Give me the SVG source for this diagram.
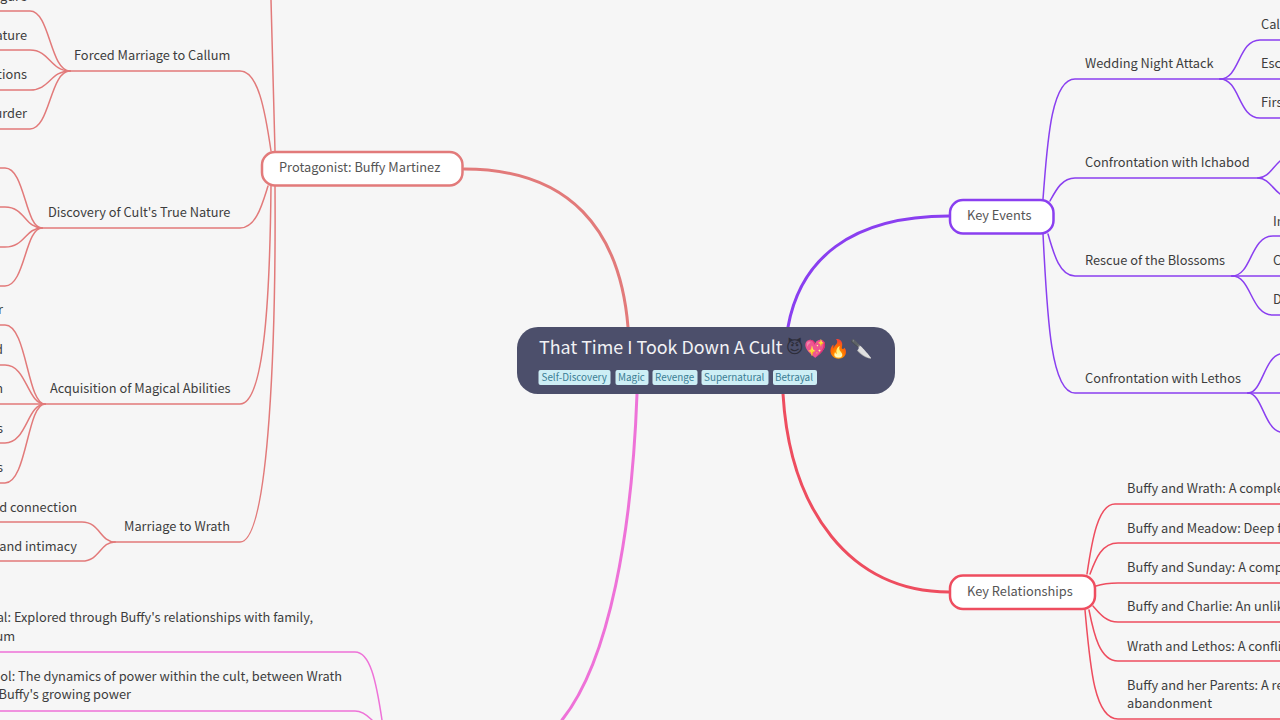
<svg xmlns="http://www.w3.org/2000/svg" width="1280" height="720" viewBox="0 0 1280 720">
<style>
text{font-family:"Noto Sans CJK SC","Noto Sans",sans-serif;font-size:12.800px;fill:#3d3d3d;dominant-baseline:central}
.e{text-anchor:end}
path{fill:none;stroke-linecap:round}
.r{stroke:#e27a7a}.v{stroke:#8a3ff0}.k{stroke:#ee4d5f}.p{stroke:#ee72d8}
.l{stroke-width:1.5}.m{stroke-width:3}
rect.n{fill:#fff;stroke-width:2.500}
rect.t{fill:#cdeef5;}
text.g{font-size:9.900px;fill:#3a7d94}
text.b{fill:#555}
</style>
<rect width="1280" height="720" fill="#f6f6f6"/>
<g id="connectors">
<path class="r m" d="M628,327C620,230 570,169 464,169"/>
<path class="v m" d="M788,327C800,260 850,216 949,216"/>
<path class="k m" d="M783,394C790,510 850,592 949,592"/>
<path class="p m" d="M637,394C632,530 610,660 562,720"/>
<g class="lev">
<path class="r l" d="M275,151C274,100 272,50 271,0"/>
<path class="r l" d="M271,151C265,110 258,71 240,71H70"/>
<path class="r l" d="M268,186C262,205 256,228 240,228H42"/>
<path class="r l" d="M271,186C270,290 265,404 240,404H45"/>
<path class="r l" d="M275,186C276,330 270,542 240,542H115"/>
<path class="r l" d="M70,71C50,71 50,11 30,11H0"/>
<path class="r l" d="M70,71C50,71 50,50 30,50H0"/>
<path class="r l" d="M70,71C50,71 50,90 30,90H0"/>
<path class="r l" d="M70,71C50,71 50,129 30,129H0"/>
<path class="r l" d="M42,228C25,228 25,168 5,168H0"/>
<path class="r l" d="M42,228C25,228 25,207 5,207H0"/>
<path class="r l" d="M42,228C25,228 25,247 5,247H0"/>
<path class="r l" d="M42,228C25,228 25,286 5,286H0"/>
<path class="r l" d="M45,404C27,404 27,325 5,325H0"/>
<path class="r l" d="M45,404C27,404 27,365 5,365H0"/>
<path class="r l" d="M45,404H0"/>
<path class="r l" d="M45,404C27,404 27,443 5,443H0"/>
<path class="r l" d="M45,404C27,404 27,483 5,483H0"/>
<path class="r l" d="M115,542C100,542 100,522 82,522H0"/>
<path class="r l" d="M115,542C100,542 100,561 82,561H0"/>
<path class="p l" d="M0,652H355C370,652 376,680 382,720"/>
<path class="p l" d="M0,711H355C362,711 367,715 372,720"/>
<path class="v l" d="M1043,199C1047,150 1050,79 1075,79H1220"/>
<path class="v l" d="M1050,201C1056,190 1062,178 1075,178H1258"/>
<path class="v l" d="M1048,234C1054,255 1060,276 1075,276H1232"/>
<path class="v l" d="M1043,234C1047,310 1050,393 1075,393H1248"/>
<path class="v l" d="M1220,79C1240,79 1238,40 1260,40H1280"/>
<path class="v l" d="M1220,79H1280"/>
<path class="v l" d="M1220,79C1240,79 1238,118 1260,118H1280"/>
<path class="v l" d="M1258,178C1268,178 1272,168 1280,161"/>
<path class="v l" d="M1258,178C1268,178 1272,188 1280,194"/>
<path class="v l" d="M1232,276C1252,276 1250,236 1273,236H1280"/>
<path class="v l" d="M1232,276H1280"/>
<path class="v l" d="M1232,276C1252,276 1250,315 1273,315H1280"/>
<path class="v l" d="M1248,393C1262,393 1264,358 1280,354"/>
<path class="v l" d="M1248,393H1280"/>
<path class="v l" d="M1248,393C1262,393 1264,428 1280,432"/>
<path class="k l" d="M1087,574C1092,540 1098,504 1115,504H1280"/>
<path class="k l" d="M1090,574C1096,558 1102,543 1118,543H1280"/>
<path class="k l" d="M1096,586C1102,584 1108,583 1118,583H1280"/>
<path class="k l" d="M1093,606C1100,614 1106,622 1118,622H1280"/>
<path class="k l" d="M1089,610C1094,635 1100,661 1118,661H1280"/>
<path class="k l" d="M1085,610C1090,665 1094,719 1118,719H1280"/>
</g>
</g>
<g id="root">
<rect x="517" y="327" width="378" height="67" rx="21" fill="#4c4f6b"/>
<text x="539" y="346" style="font-size:17.900px;fill:#f2f2f5">That Time I Took Down A Cult</text>
<text x="786" y="347" style="font-size:17px;fill:#2c2d3a;font-family:'DejaVu Sans',sans-serif">😈</text>
<text x="804" y="347" style="font-size:18px;fill:#f2f2f5">💖</text>
<text x="827" y="347" style="font-size:18px;fill:#f2f2f5">🔥</text>
<text x="850" y="347" style="font-size:18px;fill:#f2f2f5">🔪</text>
<rect class="t" x="538.500" y="370" width="72" height="15" rx="2"/><text class="g" x="541.500" y="377">Self-Discovery</text>
<rect class="t" x="615.500" y="370" width="33" height="15" rx="2"/><text class="g" x="618" y="377">Magic</text>
<rect class="t" x="652.500" y="370" width="45" height="15" rx="2"/><text class="g" x="655" y="377">Revenge</text>
<rect class="t" x="701.500" y="370" width="67" height="15" rx="2"/><text class="g" x="704" y="377">Supernatural</text>
<rect class="t" x="773" y="370" width="44" height="15" rx="2"/><text class="g" x="775" y="377">Betrayal</text>
</g>
<g id="protagonist"><rect class="n r" x="262" y="152" width="200.500" height="33.500" rx="13"/><text class="b" x="279" y="166">Protagonist: Buffy Martinez</text></g>
<g id="key-events"><rect class="n v" x="950" y="200" width="103.500" height="33.500" rx="13"/><text class="b" x="967" y="214">Key Events</text></g>
<g id="key-relationships"><rect class="n k" x="950" y="575.500" width="145" height="33.500" rx="13"/><text class="b" x="967" y="590">Key Relationships</text></g>
<g id="forced"><text x="74" y="54">Forced Marriage to Callum</text><text class="e" x="27" y="-5">gure</text><text class="e" x="27" y="34">nature</text><text class="e" x="27" y="73">tions</text><text class="e" x="27" y="112">urder</text></g>
<g id="discovery"><text x="48" y="211">Discovery of Cult's True Nature</text></g>
<g id="acquisition"><text x="50" y="387">Acquisition of Magical Abilities</text><text class="e" x="3" y="308">r</text><text class="e" x="3" y="348">d</text><text class="e" x="3" y="387">n</text><text class="e" x="3" y="427">s</text><text class="e" x="3" y="466">s</text></g>
<g id="wrath"><text x="124" y="525">Marriage to Wrath</text><text class="e" x="77" y="506">d connection</text><text class="e" x="77" y="545">and intimacy</text></g>
<g id="themes"><text class="e" x="313" y="616">al: Explored through Buffy's relationships with family,</text><text class="e" x="15" y="635">um</text><text class="e" x="342" y="675">ol: The dynamics of power within the cult, between Wrath</text><text class="e" x="131" y="693">Buffy's growing power</text></g>
<g id="wedding"><text x="1085" y="62">Wedding Night Attack</text><text x="1261" y="23">Cal</text><text x="1261" y="62">Esc</text><text x="1261" y="101">Firs</text></g>
<g id="ichabod"><text x="1085" y="161">Confrontation with Ichabod</text></g>
<g id="blossoms"><text x="1085" y="259">Rescue of the Blossoms</text><text x="1273" y="220">In</text><text x="1273" y="259">C</text><text x="1273" y="298">D</text></g>
<g id="lethos"><text x="1085" y="377">Confrontation with Lethos</text></g>
<g id="relations"><text x="1127" y="487">Buffy and Wrath: A comple</text><text x="1127" y="527">Buffy and Meadow: Deep f</text><text x="1127" y="566">Buffy and Sunday: A comp</text><text x="1127" y="605">Buffy and Charlie: An unlik</text><text x="1127" y="645">Wrath and Lethos: A confli</text><text x="1127" y="684">Buffy and her Parents: A re</text><text x="1127" y="702">abandonment</text></g>
</svg>
